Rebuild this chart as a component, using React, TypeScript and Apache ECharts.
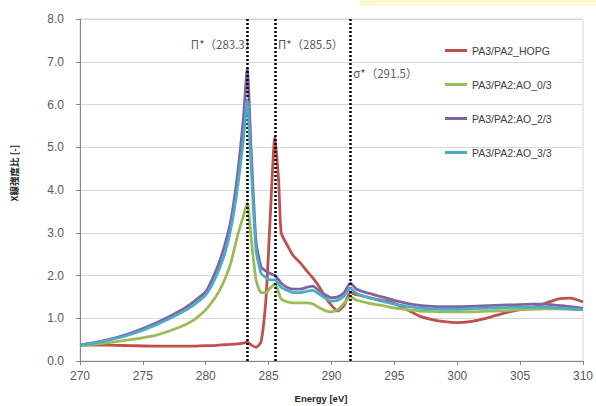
import React, { useEffect, useRef } from "react";
import * as echarts from "echarts";

const energy = [270, 272, 274, 276, 278, 279, 280, 280.5, 281, 281.5, 282, 282.5, 283, 283.3, 283.6, 284, 284.4, 284.8, 285.1, 285.5, 285.8, 286, 286.5, 287, 287.5, 288, 288.5, 289, 289.5, 290, 290.5, 291, 291.5, 292, 293, 294, 295, 296, 297, 298, 299, 300, 301, 302, 303, 304, 305, 306, 307, 308, 309, 310];

const hopg = [0.37, 0.37, 0.36, 0.35, 0.35, 0.35, 0.36, 0.36, 0.37, 0.38, 0.39, 0.4, 0.42, 0.44, 0.38, 0.32, 0.45, 1.5, 3.2, 5.25, 4.2, 3.0, 2.7, 2.45, 2.3, 2.12, 1.95, 1.75, 1.5, 1.3, 1.17, 1.3, 1.6, 1.55, 1.48, 1.42, 1.35, 1.2, 1.05, 0.97, 0.92, 0.9, 0.92, 0.98, 1.06, 1.14, 1.2, 1.25, 1.35, 1.45, 1.47, 1.38];

const ao0 = [0.37, 0.42, 0.5, 0.6, 0.8, 0.95, 1.2, 1.38, 1.6, 1.9, 2.3, 2.9, 3.4, 3.7, 2.9, 1.9, 1.6, 1.6, 1.7, 1.8, 1.6, 1.45, 1.38, 1.36, 1.36, 1.36, 1.34, 1.25, 1.18, 1.15, 1.2, 1.35, 1.5, 1.42, 1.35, 1.3, 1.24, 1.2, 1.17, 1.16, 1.15, 1.15, 1.15, 1.16, 1.17, 1.18, 1.2, 1.21, 1.22, 1.22, 1.21, 1.2];

const ao2 = [0.37, 0.48, 0.65, 0.88, 1.18, 1.38, 1.62, 1.9, 2.25, 2.7, 3.3, 4.3, 5.7, 6.85, 5.0, 2.8, 2.2, 2.1, 2.05, 2.0, 1.9, 1.82, 1.72, 1.68, 1.68, 1.72, 1.75, 1.65, 1.55, 1.48, 1.5, 1.6, 1.82, 1.68, 1.58, 1.5, 1.42, 1.35, 1.3, 1.28, 1.27, 1.27, 1.28, 1.29, 1.3, 1.31, 1.32, 1.33, 1.33, 1.3, 1.27, 1.23];

const ao3 = [0.37, 0.47, 0.62, 0.84, 1.12, 1.3, 1.55, 1.78, 2.1, 2.5, 3.1, 4.0, 5.2, 6.1, 4.6, 2.6, 2.05, 1.95, 1.9, 1.9, 1.8, 1.72, 1.65, 1.6, 1.6, 1.63, 1.65, 1.57, 1.47, 1.4, 1.42, 1.52, 1.7, 1.58, 1.48, 1.4, 1.33, 1.28, 1.24, 1.22, 1.21, 1.21, 1.22, 1.23, 1.24, 1.25, 1.26, 1.26, 1.26, 1.24, 1.22, 1.2];

const seriesNames = ["PA3/PA2_HOPG", "PA3/PA2:AO_0/3", "PA3/PA2:AO_2/3", "PA3/PA2:AO_3/3"];
const seriesColors = ["#C0504D", "#9BBB59", "#8064A2", "#4BACC6"];
const seriesValues = [hopg, ao0, ao2, ao3];

const peakEnergies = [283.3, 285.5, 291.5];
const peakLabels = ["Π*（283.3）", "Π*（285.5）", "σ*（291.5）"];
const peakLabelY = [7.42, 7.42, 6.74];
const peakLabelSide = ["left", "right", "right"];

export default function App() {
  const ref = useRef<HTMLDivElement>(null);
  useEffect(() => {
    if (!ref.current) return;
    const chart = echarts.init(ref.current, null, { renderer: "svg" });
    const lineSeries = seriesNames.map((name, i) => ({
      name,
      type: "line",
      data: energy.map((e, j) => [e, seriesValues[i][j]]),
      showSymbol: false,
      symbol: "none",
      smooth: 0.2,
      lineStyle: { color: seriesColors[i], width: 2.8 },
      itemStyle: { color: seriesColors[i] },
      z: 2 + i,
    }));
    const annotation = {
      name: "annotations",
      type: "scatter",
      symbolSize: 0,
      silent: true,
      z: 10,
      data: peakEnergies.map((e, i) => ({
        value: [e, peakLabelY[i]],
        label: {
          show: true,
          position: peakLabelSide[i],
          distance: peakLabelSide[i] === "left" ? -9 : 3,
          formatter: peakLabels[i],
          color: "#262626",
          fontSize: 11.5,
          fontFamily: "Noto Sans CJK JP",
        },
      })),
      markLine: {
        silent: true,
        symbol: "none",
        label: { show: false },
        lineStyle: { color: "#000000", type: [2, 2], width: 2.5 },
        data: peakEnergies.map((e) => ({ xAxis: e })),
      },
    };
    chart.setOption({
      animation: false,
      backgroundColor: "#ffffff",
      grid: {
        left: 80,
        right: 9,
        top: 19,
        bottom: 45,
        show: true,
        borderColor: "#d9d9d9",
        borderWidth: 1,
      },
      legend: {
        data: seriesNames,
        orient: "vertical",
        left: 440,
        top: 39,
        icon: "rect",
        itemWidth: 22,
        itemHeight: 3,
        itemGap: 21,
        textStyle: { color: "#404040", fontSize: 10.5, fontFamily: "Liberation Sans", lineHeight: 13 },
      },
      xAxis: {
        type: "value",
        min: 270,
        max: 310,
        interval: 5,
        axisLine: { show: true, lineStyle: { color: "#868686" } },
        axisTick: { show: true, length: 4, lineStyle: { color: "#868686" } },
        axisLabel: { color: "#595959", fontSize: 12, fontFamily: "Liberation Sans", margin: 9 },
        splitLine: { show: false },
      },
      yAxis: {
        type: "value",
        min: 0,
        max: 8,
        interval: 1,
        axisLine: { show: true, lineStyle: { color: "#868686" } },
        axisTick: { show: true, length: 4, lineStyle: { color: "#868686" } },
        axisLabel: {
          color: "#595959",
          fontSize: 12,
          fontFamily: "Liberation Sans",
          margin: 16,
          formatter: (v: number) => v.toFixed(1),
        },
        splitLine: { show: true, lineStyle: { color: "#d9d9d9" } },
      },
      graphic: [
        { type: "rect", left: 360, top: 0, shape: { width: 236, height: 6 }, style: { fill: "#fdf9cf" } },
        {
          type: "text",
          x: 14,
          y: 173,
          rotation: Math.PI / 2,
          style: {
            text: "X線強度比 [-]",
            fill: "#262626",
            font: "bold 9.5px 'Noto Sans CJK JP'",
            align: "center",
            verticalAlign: "middle",
          },
        },
        {
          type: "text",
          x: 321,
          y: 398,
          style: {
            text: "Energy [eV]",
            fill: "#262626",
            font: "bold 9.5px 'Liberation Sans'",
            align: "center",
            verticalAlign: "middle",
          },
        },
      ],
      series: [...lineSeries, annotation],
    });
    return () => chart.dispose();
  }, []);
  return <div ref={ref} style={{ width: 596, height: 406, position: "fixed", left: 0, top: 0 }} />;
}
